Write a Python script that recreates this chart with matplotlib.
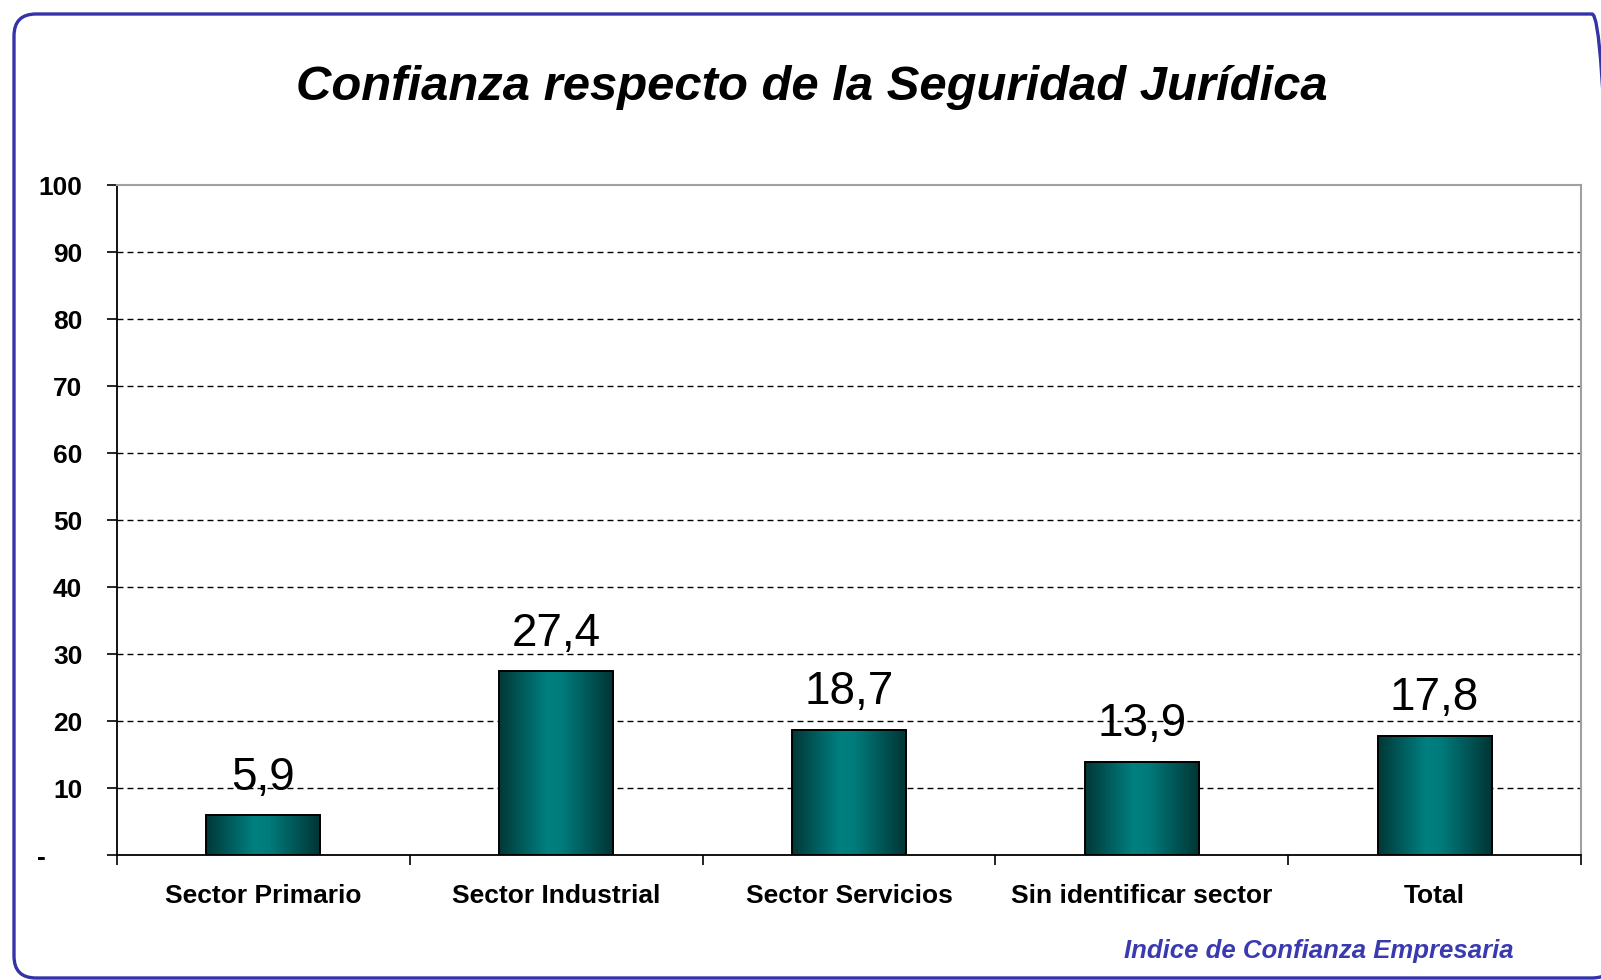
import numpy as np
import matplotlib
matplotlib.use("Agg")
import matplotlib.pyplot as plt
from matplotlib.colors import LinearSegmentedColormap
from matplotlib.patches import FancyBboxPatch

# chart data
categories = ['Sector Primario', 'Sector Industrial', 'Sector Servicios',
              'Sin identificar sector', 'Total']
values = [5.9, 27.4, 18.7, 13.9, 17.8]
value_labels = ['5,9', '27,4', '18,7', '13,9', '17,8']
y_ticks = [0, 10, 20, 30, 40, 50, 60, 70, 80, 90, 100]
y_tick_labels = ['-     ', '10', '20', '30', '40', '50', '60', '70', '80', '90', '100']

title = 'Confianza respecto de la Seguridad Jurídica'
footer = 'Indice de Confianza Empresaria'

plt.rcParams['font.family'] = ['Liberation Sans', 'DejaVu Sans']

W, H = 1601, 980
fig = plt.figure(figsize=(W / 100, H / 100), dpi=100)
fig.patch.set_facecolor('white')

# rounded frame (display coords, origin bottom left), runs off the right edge
frame = FancyBboxPatch((14, 2), 1614 - 14, 966 - 2,
                       boxstyle='round,pad=0,rounding_size=22',
                       transform=None, facecolor='none',
                       edgecolor='#3434a8', linewidth=2.4, clip_on=False)
fig.patches.append(frame)

ax = fig.add_axes([117 / W, (H - 855) / H, (1581 - 117) / W, (855 - 185) / H])
ax.set_facecolor('white')

# grid lines
for t in y_ticks[1:-1]:
    ax.axhline(t, color='black', lw=1.0, linestyle=(0, (4.3, 2.9)), zorder=1)

# bars with a horizontal shading
cmap = LinearSegmentedColormap.from_list(
    'teal', [(0.0, '#023838'), (0.42, '#008080'), (0.55, '#007b7b'), (1.0, '#013434')])
grad = np.linspace(0, 1, 256).reshape(1, -1)
x = np.arange(len(categories))
bars = ax.bar(x, values, width=0.39, facecolor='none', edgecolor='black',
              linewidth=1.4, zorder=3)
for b in bars:
    ax.imshow(grad, cmap=cmap, aspect='auto', zorder=2, interpolation='bilinear',
              extent=(b.get_x(), b.get_x() + b.get_width(), 0, b.get_height()))

for xi, v, lab in zip(x, values, value_labels):
    ax.annotate(lab, (xi, v), xytext=(0, 18.5), textcoords='offset points',
                ha='center', va='baseline', fontsize=33, color='black', zorder=4)

ax.set_xlim(-0.5, len(categories) - 0.5)
ax.set_ylim(0, 100)

# spines
ax.spines['left'].set_color('black')
ax.spines['left'].set_linewidth(1.3)
ax.spines['bottom'].set_color('black')
ax.spines['bottom'].set_linewidth(1.3)
ax.spines['top'].set_color('#a0a0a0')
ax.spines['top'].set_linewidth(1.5)
ax.spines['right'].set_color('#a0a0a0')
ax.spines['right'].set_linewidth(1.5)

# y axis
ax.set_yticks(y_ticks)
ax.set_yticklabels(y_tick_labels, fontsize=19, fontweight='bold')
ax.tick_params(axis='y', direction='out', length=7, width=1.2, pad=18)

# x axis: ticks on category boundaries, labels at centers
ax.set_xticks(np.arange(len(categories) + 1) - 0.5)
ax.set_xticklabels([])
ax.tick_params(axis='x', which='major', direction='out', length=7, width=1.2)
ax.set_xticks(x, minor=True)
ax.set_xticklabels(categories, minor=True, fontsize=19, fontweight='bold')
ax.tick_params(axis='x', which='minor', length=0, pad=21)

fig.text(812 / W, 1 - 87 / H, title, ha='center', va='center',
         fontsize=35.3, fontweight='bold', fontstyle='italic')
fig.text(1514 / W, 1 - 951 / H, footer, ha='right', va='center',
         fontsize=18.5, fontweight='bold', fontstyle='italic', color='#3a3ab0')

fig.savefig('out.png', dpi=100)
